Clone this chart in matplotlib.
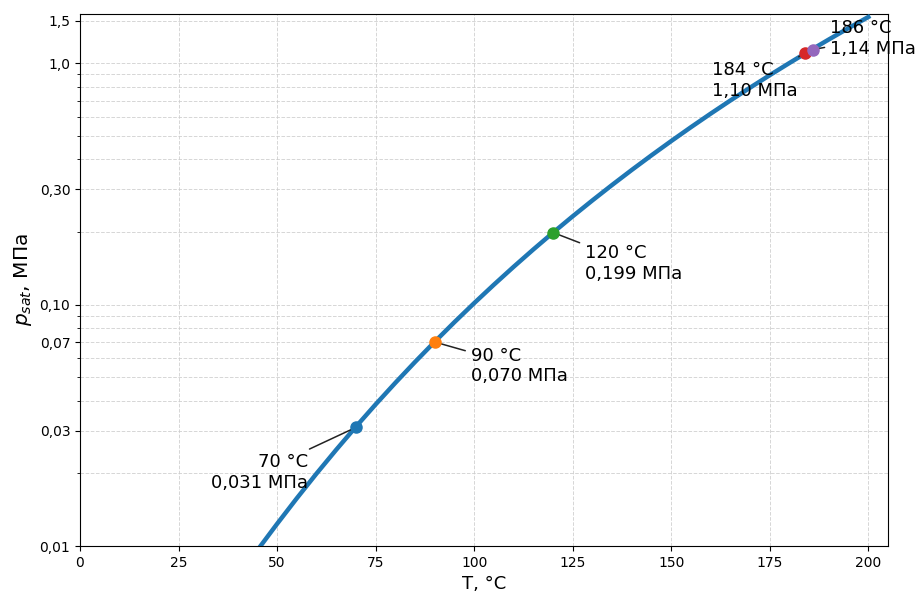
"""
Saturation pressure of water vs temperature, log y axis, with a few
annotated points.
"""
import matplotlib
matplotlib.use("Agg")
import matplotlib.pyplot as plt
from matplotlib.ticker import FixedLocator, LogLocator, NullFormatter

# curve (steam-table like values), T in °C, p in MPa
curve_t = [45.8, 50, 55, 60, 65, 70, 75, 80, 85, 90, 95, 100, 105, 110, 115,
           120, 125, 130, 135, 140, 145, 150, 155, 160, 165, 170, 175, 180,
           185, 190, 195, 200]
curve_p = [0.0100, 0.01235, 0.01576, 0.01995, 0.02504, 0.03120, 0.03860,
           0.04741, 0.05787, 0.07018, 0.08461, 0.10142, 0.12090, 0.14338,
           0.16918, 0.19867, 0.23224, 0.27028, 0.31323, 0.36154, 0.41568,
           0.47616, 0.54350, 0.61823, 0.70093, 0.79219, 0.89260, 1.0028,
           1.1235, 1.2552, 1.3988, 1.5549]

# highlighted points
pt_t = [70, 90, 120, 184, 186]
pt_p = [0.031, 0.070, 0.199, 1.10, 1.14]
pt_labels = ["70 °C\n0,031 МПа", "90 °C\n0,070 МПа", "120 °C\n0,199 МПа",
             "184 °C\n1,10 МПа", "186 °C\n1,14 МПа"]
pt_colors = ["C0", "C1", "C2", "C3", "C4"]

y_ticks = [0.01, 0.03, 0.07, 0.10, 0.30, 1.0, 1.5]
y_tick_labels = ["0,01", "0,03", "0,07", "0,10", "0,30", "1,0", "1,5"]

# label placement: offset in pixels from the point, horizontal alignment
offsets = [(-48, -45, "right"), (36, -24, "left"), (32, -31, "left"),
           (-93, -27, "left"), (17, 11, "left")]

fig = plt.figure(figsize=(9.16, 5.94), dpi=100)
ax = fig.add_axes([80 / 916, 48 / 594, 808 / 916, 532 / 594])

ax.plot(curve_t, curve_p, color="#1f77b4", linewidth=3.2, zorder=3)

for t, p, lab, col, (dx, dy, ha) in zip(pt_t, pt_p, pt_labels, pt_colors, offsets):
    ax.plot([t], [p], "o", color=col, markersize=8, zorder=4)
    ax.annotate(lab, xy=(t, p), xytext=(dx, dy), textcoords="offset pixels",
                ha=ha, va="center", fontsize=13,
                arrowprops=dict(arrowstyle="-", color="#222222", lw=1.1))

ax.set_yscale("log")
ax.set_xlim(0, 205)
ax.set_ylim(0.01, 1.6)

ax.yaxis.set_major_locator(FixedLocator(y_ticks))
ax.set_yticklabels(y_tick_labels)
ax.yaxis.set_minor_locator(LogLocator(subs=range(2, 10)))
ax.yaxis.set_minor_formatter(NullFormatter())
ax.set_xticks([0, 25, 50, 75, 100, 125, 150, 175, 200])
ax.tick_params(labelsize=10)

ax.grid(which="both", linestyle="--", color="#cccccc", linewidth=0.7, alpha=0.8)

ax.set_xlabel("T, °C", fontsize=13)
ax.set_ylabel("$p_{sat}$, МПа", fontsize=14.5)

fig.savefig("out.png", dpi=100)
